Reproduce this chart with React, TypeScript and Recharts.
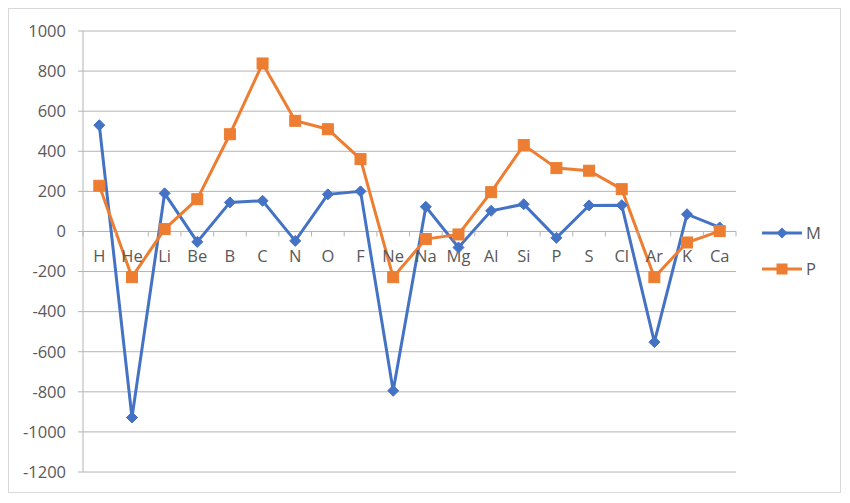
import React from 'react';
import { LineChart, Line, XAxis, YAxis, CartesianGrid, ReferenceLine, ReferenceDot, Legend } from 'recharts';

const categories = ['H', 'He', 'Li', 'Be', 'B', 'C', 'N', 'O', 'F', 'Ne', 'Na', 'Mg', 'Al', 'Si', 'P', 'S', 'Cl', 'Ar', 'K', 'Ca'];
const mValues = [530, -928, 190, -52, 145, 153, -47, 185, 200, -795, 123, -80, 103, 136, -32, 130, 131, -552, 86, 20];
const pValues = [228, -228, 12, 161, 485, 838, 552, 510, 361, -228, -38, -15, 196, 431, 316, 303, 211, -228, -55, 2];
const yTicks = [-1200, -1000, -800, -600, -400, -200, 0, 200, 400, 600, 800, 1000];

const data = categories.map((c, i) => ({ el: c, M: mValues[i], P: pValues[i] }));

const FONT = '"Open Sans", "Liberation Sans", sans-serif';
const TEXT = '#595959';
const GRID = '#b4b4b4';
const BLUE = '#4472C4';
const ORANGE = '#ED7D31';

const CHART_W = 831;
const CHART_H = 483;
const LEGEND_W = 80;
const MARGIN = { top: 22, right: 104 - LEGEND_W, bottom: 20, left: 0 };
const Y_W = 74;
const PLOT_W = CHART_W - MARGIN.left - MARGIN.right - LEGEND_W - Y_W;
const BAND = PLOT_W / categories.length;

const Diamond = (props: any) => {
  const { cx, cy, key } = props;
  if (cx == null || cy == null) return <g key={key} />;
  const s = 5.5;
  return <path key={key} d={`M${cx},${cy - s}L${cx + s},${cy}L${cx},${cy + s}L${cx - s},${cy}Z`} fill={BLUE} stroke={BLUE} strokeWidth={1} />;
};

const Square = (props: any) => {
  const { cx, cy, key } = props;
  if (cx == null || cy == null) return <g key={key} />;
  const s = 5.5;
  return <rect key={key} x={cx - s} y={cy - s} width={2 * s} height={2 * s} fill={ORANGE} stroke={ORANGE} />;
};

const makeCatLabel = (label: string, last: boolean) => (props: any) => {
  const { cx, cy } = props;
  if (cx == null || cy == null) return <g />;
  return (
    <g>
      <line x1={cx - BAND / 2} x2={cx - BAND / 2} y1={cy} y2={cy + 5} stroke={GRID} strokeWidth={1} />
      {last && <line x1={cx + BAND / 2} x2={cx + BAND / 2} y1={cy} y2={cy + 5} stroke={GRID} strokeWidth={1} />}
      <text x={cx} y={cy + 31} textAnchor="middle" fill={TEXT} fontSize={16.5} fontFamily={FONT}>{label}</text>
    </g>
  );
};

const LegendContent = () => {
  const items = [
    { name: 'M', color: BLUE, shape: 'diamond' },
    { name: 'P', color: ORANGE, shape: 'square' },
  ];
  return (
    <svg width={LEGEND_W} height={60} style={{ overflow: 'visible', display: 'block' }}>
      {items.map((it, i) => {
        const y = 10 + i * 36;
        return (
          <g key={it.name}>
            <line x1={2} x2={42} y1={y} y2={y} stroke={it.color} strokeWidth={3} />
            {it.shape === 'diamond' ? (
              <path d={`M22,${y - 5.5}L27.5,${y}L22,${y + 5.5}L16.5,${y}Z`} fill={it.color} />
            ) : (
              <rect x={16.5} y={y - 5.5} width={11} height={11} fill={it.color} />
            )}
            <text x={46} y={y} dy="0.355em" fill={TEXT} fontSize={16.5} fontFamily={FONT}>{it.name}</text>
          </g>
        );
      })}
    </svg>
  );
};

export default function App() {
  return (
    <div style={{ width: CHART_W, height: CHART_H, border: '1px solid #d9d9d9', background: '#fff' }}>
      <LineChart width={CHART_W} height={CHART_H} data={data} margin={MARGIN}>
        <CartesianGrid vertical={false} stroke={GRID} strokeWidth={1} />
        <XAxis dataKey="el" hide padding={{ left: BAND / 2, right: BAND / 2 }} />
        <YAxis
          domain={[-1200, 1000]}
          ticks={yTicks}
          width={Y_W}
          tickSize={5}
          tickMargin={12}
          axisLine={{ stroke: GRID }}
          tickLine={{ stroke: GRID }}
          tick={{ fill: TEXT, fontSize: 16.5, fontFamily: FONT }}
          interval={0}
        />
        <ReferenceLine y={0} stroke={GRID} strokeWidth={1} />
        <Line dataKey="M" stroke={BLUE} strokeWidth={3} dot={Diamond} isAnimationActive={false} />
        <Line dataKey="P" stroke={ORANGE} strokeWidth={3} dot={Square} isAnimationActive={false} />
        {categories.map((c, i) => (
          <ReferenceDot key={c} x={c} y={0} r={1} ifOverflow="visible" shape={makeCatLabel(c, i === categories.length - 1)} />
        ))}
        <Legend
          layout="vertical"
          align="right"
          verticalAlign="middle"
          content={<LegendContent />}
          wrapperStyle={{ position: 'absolute', left: 751, top: 214, width: LEGEND_W, height: 60, overflow: 'visible' }}
        />
      </LineChart>
    </div>
  );
}
